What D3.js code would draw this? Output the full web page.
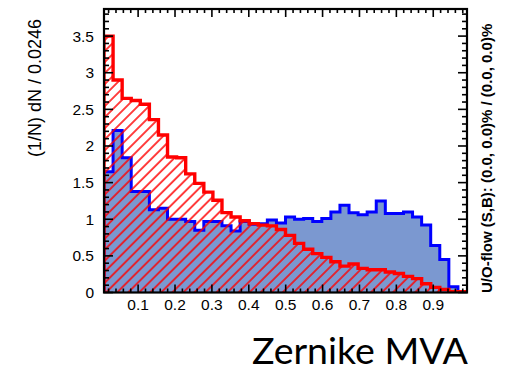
<!DOCTYPE html>
<html>
<head>
<meta charset="utf-8">
<script src="https://cdn.jsdelivr.net/npm/d3@7"></script>
<style>
  html, body { margin: 0; padding: 0; background: #ffffff; }
  svg { display: block; }
</style>
</head>
<body>
<svg id="chart" width="506" height="372"></svg>
<script>
// Histogram binning: 40 bins of width 0.0246 starting at 0.0075
const binWidth = 0.0246;
const binStart = 0.0075;

// Normalised signal distribution (1/N dN per bin)
const signalValues = [
  1.65, 2.21, 1.84, 1.38, 1.38, 1.13, 1.15, 1.00, 1.00, 0.97,
  0.85, 0.97, 0.97, 0.91, 0.84, 0.97, 0.93, 0.94, 0.99, 0.95,
  1.03, 1.00, 1.01, 0.97, 1.01, 1.10, 1.19, 1.09, 1.06, 1.10,
  1.25, 1.08, 1.08, 1.10, 1.03, 0.92, 0.64, 0.45, 0.08, 0.01
];

// Normalised background distribution (1/N dN per bin)
const backgroundValues = [
  3.50, 2.90, 2.65, 2.62, 2.57, 2.36, 2.15, 1.85, 1.84, 1.62,
  1.49, 1.37, 1.26, 1.09, 1.03, 0.98, 0.94, 0.92, 0.91, 0.86,
  0.78, 0.67, 0.59, 0.53, 0.48, 0.42, 0.36, 0.39, 0.33, 0.31,
  0.31, 0.28, 0.26, 0.22, 0.19, 0.12, 0.07, 0.04, 0.01, 0.01
];

const xTickValues = [0.1, 0.2, 0.3, 0.4, 0.5, 0.6, 0.7, 0.8, 0.9];
const xTickLabels = ["0.1", "0.2", "0.3", "0.4", "0.5", "0.6", "0.7", "0.8", "0.9"];
const yTickValues = [0, 0.5, 1, 1.5, 2, 2.5, 3, 3.5];
const yTickLabels = ["0", "0.5", "1", "1.5", "2", "2.5", "3", "3.5"];

const yAxisTitle = "(1/N) dN / 0.0246";
const xAxisTitle = "Zernike MVA";
const overflowText = "U/O-flow (S,B): (0.0, 0.0)% / (0.0, 0.0)%";
const yMax = 3.87;

const frame = { left: 104, right: 467, top: 9, bottom: 292.5 };

const svg = d3.select("#chart");
const xMin = binStart;
const xMax = binStart + signalValues.length * binWidth;

const x = d3.scaleLinear().domain([xMin, xMax]).range([frame.left, frame.right]);
const y = d3.scaleLinear().domain([0, yMax]).range([frame.bottom, frame.top]);

// Hatch pattern for the background histogram
const defs = svg.append("defs");
defs.append("clipPath").attr("id", "plot-clip")
  .append("rect")
  .attr("x", frame.left).attr("y", frame.top)
  .attr("width", frame.right - frame.left).attr("height", frame.bottom - frame.top);

const hatch = defs.append("pattern")
  .attr("id", "hatch")
  .attr("patternUnits", "userSpaceOnUse")
  .attr("width", 7.8).attr("height", 7.8)
  .attr("patternTransform", "rotate(45)");
hatch.append("line")
  .attr("x1", 1).attr("y1", 0).attr("x2", 1).attr("y2", 7.8)
  .attr("stroke", "#ff0000").attr("stroke-width", 1.5);

// Step outline of a histogram, closed on the baseline at both ends
function stepPoints(values) {
  const pts = [[x(xMin), y(0)]];
  values.forEach((v, i) => {
    const x0 = x(binStart + i * binWidth);
    const x1 = x(binStart + (i + 1) * binWidth);
    pts.push([x0, y(v)], [x1, y(v)]);
  });
  pts.push([x(xMax), y(0)]);
  return pts;
}
const line = d3.line();

const plot = svg.append("g").attr("clip-path", "url(#plot-clip)");

// Signal: filled histogram
const sigPts = stepPoints(signalValues);
plot.append("path")
  .attr("d", line(sigPts) + "Z")
  .attr("fill", "#7b98d0")
  .attr("stroke", "none");
plot.append("path")
  .attr("d", line(sigPts))
  .attr("fill", "none")
  .attr("stroke", "#0000ff")
  .attr("stroke-width", 3)
  .attr("stroke-linejoin", "miter");

// Background: hatched histogram
const bkgPts = stepPoints(backgroundValues);
plot.append("path")
  .attr("d", line(bkgPts) + "Z")
  .attr("fill", "url(#hatch)")
  .attr("stroke", "none");
plot.append("path")
  .attr("d", line(bkgPts))
  .attr("fill", "none")
  .attr("stroke", "#ff0000")
  .attr("stroke-width", 3.4)
  .attr("stroke-linejoin", "miter");

// Ticks drawn inward on all four sides
const ticks = svg.append("g").attr("stroke", "#000").attr("stroke-width", 1.6);
const xMinor = d3.range(1, 50).map(k => k * 0.02).filter(v => v > xMin && v < xMax);
xMinor.forEach(v => {
  const major = Math.abs(Math.round(v * 10) - v * 10) < 1e-6;
  const len = major ? 8 : 4;
  const px = x(v);
  ticks.append("line").attr("x1", px).attr("x2", px)
    .attr("y1", frame.bottom).attr("y2", frame.bottom - len);
  ticks.append("line").attr("x1", px).attr("x2", px)
    .attr("y1", frame.top).attr("y2", frame.top + len);
});
const yMinor = d3.range(0, 39).map(k => k * 0.1).filter(v => v <= yMax);
yMinor.forEach(v => {
  const major = Math.abs(Math.round(v * 2) - v * 2) < 1e-6;
  const len = major ? 9 : 5;
  const py = y(v);
  ticks.append("line").attr("x1", frame.left).attr("x2", frame.left + len)
    .attr("y1", py).attr("y2", py);
  ticks.append("line").attr("x1", frame.right).attr("x2", frame.right - len)
    .attr("y1", py).attr("y2", py);
});

// Frame
svg.append("rect")
  .attr("x", frame.left).attr("y", frame.top)
  .attr("width", frame.right - frame.left).attr("height", frame.bottom - frame.top)
  .attr("fill", "none").attr("stroke", "#000").attr("stroke-width", 2.2);

// Tick labels
const labelFont = "Arial, 'Liberation Sans', Helvetica, sans-serif";
svg.append("g").selectAll("text")
  .data(xTickValues)
  .join("text")
  .attr("x", d => x(d))
  .attr("y", 310)
  .attr("text-anchor", "middle")
  .attr("font-family", labelFont)
  .attr("font-size", 15.5)
  .attr("fill", "#000")
  .text((d, i) => xTickLabels[i]);

svg.append("g").selectAll("text")
  .data(yTickValues)
  .join("text")
  .attr("x", 94)
  .attr("y", d => y(d) + 5.5)
  .attr("text-anchor", "end")
  .attr("font-family", labelFont)
  .attr("font-size", 15.5)
  .attr("fill", "#000")
  .text((d, i) => yTickLabels[i]);

// Axis titles
svg.append("text")
  .attr("transform", "translate(41,88) rotate(-90)")
  .attr("text-anchor", "middle")
  .attr("font-family", labelFont)
  .attr("font-size", 18)
  .attr("fill", "#000")
  .text(yAxisTitle);

svg.append("text")
  .attr("x", 468)
  .attr("y", 364)
  .attr("text-anchor", "end")
  .attr("font-family", "Lato, 'Open Sans', sans-serif")
  .attr("font-size", 37.5)
  .attr("fill", "#000")
  .text(xAxisTitle);

svg.append("text")
  .attr("transform", "translate(492,293) rotate(-90)")
  .attr("text-anchor", "start")
  .attr("font-family", labelFont)
  .attr("font-weight", "bold")
  .attr("font-size", 15)
  .attr("fill", "#000")
  .text(overflowText);
</script>
</body>
</html>
